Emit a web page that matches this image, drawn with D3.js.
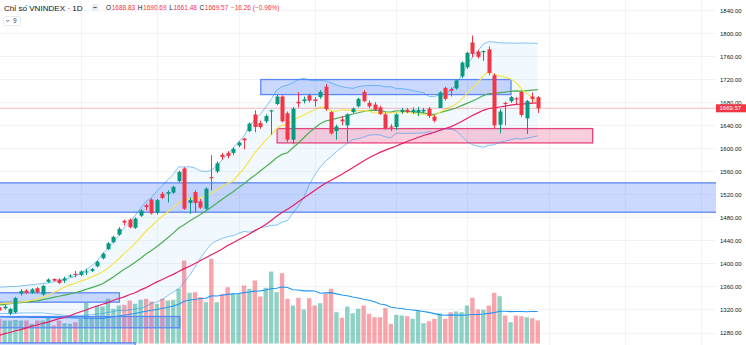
<!DOCTYPE html>
<html>
<head>
<meta charset="utf-8">
<script src="https://cdn.jsdelivr.net/npm/d3@7"></script>
<style>
  html, body { margin: 0; padding: 0; background: #ffffff; }
  svg { display: block; }
  text { font-family: "Liberation Sans", Arial, sans-serif; }
</style>
</head>
<body>
<svg id="chart" width="746" height="345"></svg>
<script>
// ---- VNINDEX daily session data (points / million shares) ----
const opens = [1324,1322,1313,1315,1348,1353,1349,1357,1346,1368,1373,1372,1370,1378,1382,1380,1385,1387,1395,1409,
  1425,1437,1450,1474,1476,1462,1483,1501,1511,1488,1521,1521,1523,1543,1565,1505,1524,1508,1495,1550,
  1560,1589,1592,1592,1605,1617,1630,1659,1644,1647,1664,1677,1690,1661,1615,1681,1682,1692,1685,1689,
  1707,1663,1630,1650,1640,1663,1673,1698,1679,1676,1671,1659,1638,1637,1663,1667,1663,1663,1664,1669,
  1655,1670,1705,1703,1704,1725,1741,1784,1768,1767,1772,1727,1641,1679,1682,1687,1698,1652,1690,1688.83];
const highs = [1326,1328,1323,1342,1355,1355,1357,1359,1363,1374,1374,1374,1377,1381,1387,1388,1391,1392,1405,1419,
  1437,1448,1463,1476,1478,1480,1494,1504,1513,1512,1524,1527,1535,1561,1567,1515,1527,1512,1532,1588,
  1577,1592,1595,1602,1612,1618,1645,1666,1648,1659,1667,1693,1692,1664,1672,1698,1690,1695,1689,1701,
  1712,1665,1641,1656,1661,1671,1688,1701,1683,1680,1674,1662,1642,1661,1670,1670,1671,1672,1670,1672,
  1658,1699,1707,1706,1720,1751,1768,1796,1771,1770,1777,1730,1668,1681,1691,1689,1700,1684,1697,1690.69];
const lows = [1316,1320,1310,1313,1344,1347,1347,1348,1344,1366,1369,1364,1366,1376,1376,1378,1380,1385,1393,1407,
  1423,1435,1448,1466,1461,1460,1481,1492,1485,1485,1512,1506,1521,1541,1493,1486,1489,1495,1493,1527,
  1557,1580,1583,1588,1602,1598,1628,1628,1634,1644,1624,1675,1645,1611,1607,1671,1678,1680,1672,1686,
  1665,1624,1615,1640,1611,1661,1671,1680,1670,1665,1658,1632,1630,1632,1660,1661,1660,1656,1661,1653,
  1645,1672,1683,1690,1702,1722,1738,1758,1756,1752,1727,1635,1626,1640,1679,1675,1655,1625,1678,1661.48];
const closes = [1318,1325,1321,1340,1352,1349,1355,1350,1361,1372,1370,1366,1374,1379,1380,1386,1386,1390,1403,1417,
  1435,1446,1460,1471,1463,1478,1492,1498,1487,1510,1514,1524,1533,1559,1495,1510,1505,1497,1530,1548,
  1574,1585,1587,1599,1610,1614,1643,1637,1637,1656,1666,1690,1647,1615,1669,1678,1685,1683,1682,1698,
  1668,1626,1638,1647,1659,1669,1686,1682,1673,1667,1660,1635,1636,1659,1667,1663,1667,1667,1667,1656,
  1648,1697,1686,1700,1718,1749,1766,1764,1759,1769,1731,1640,1664,1677,1689,1685,1658,1682,1685.83,1669.57];
const volumes = [490,460,460,470,460,460,394,460,460,526,360,460,406,394,426,494,826,526,760,740,
  894,694,760,774,860,794,874,894,840,794,894,860,874,1094,1660,1014,1026,926,826,1694,
  826,994,1126,994,994,1160,1094,1260,940,1114,1440,1026,1406,894,760,914,680,906,760,806,
  994,1094,626,514,740,606,694,760,594,526,526,706,394,574,560,546,494,646,406,446,
  494,606,494,626,640,626,760,914,680,674,760,1014,946,560,426,560,546,526,506,460];

// Indicator values for the first sessions, before each moving window is full
const ma10Head = [1330,1331,1331,1332,1333,1334,1336,1338,1341];
const ma20Head = [1328,1329,1330,1331,1332,1333,1334,1335,1337,1339,1341,1343,1345,1347,1349,1352,1355,1358,1361];
const bbUpperHead = [1359,1359,1360,1360,1361,1362,1363,1364,1365,1366,1368,1370,1372,1375,1378,1383,1389,1396,1404];
const bbLowerHead = [1313,1313,1313,1313,1314,1314,1314,1314,1314,1313,1312,1311,1310,1309,1309,1309,1310,1311,1312];
const ma50Head = [1275,1278,1280,1283,1285,1288,1291,1293,1296,1298,1301,1304,1306,1309,1313,1316,1319,1323,1326,1329,
  1332,1336,1339,1342,1346,1349,1354,1358,1363,1368,1372,1377,1381,1386,1391,1395,1400,1405,1410,1415,
  1420,1425,1431,1436,1441,1446,1451,1457,1462];
const volMaHead = [530,530,528,527,526,525,523,522,520,519,518,517,515,514,512,510,508,506,504];

// Price scale ticks
const priceTicks = [1280,1320,1360,1400,1440,1480,1520,1560,1600,1640,1680,1720,1760,1800,1840];
// Session indices where the time grid falls
const timeGrid = [15,29,44,58,73,86,101,115,129];

// Zones drawn on the chart: session range and price range
const zoneFrom   = [-10, 48.1, 51.1, -10, -10, -10];
const zoneTo     = [140, 94.1, 109.1, 22.1, 33.2, 25.0];
const zoneTop    = [1540, 1719.5, 1634.3, 1349, 1307.8, 1262];
const zoneBottom = [1489, 1693.4, 1609.4, 1332.7, 1288.2, 1230];
const zoneKind   = ['demand','supply-box','support','base','base','base'];

const lastClose = 1669.57;
const header = { title: 'Chỉ số VNINDEX · 1D', o: '1688.83', h: '1690.69', l: '1661.48', c: '1669.57', chg: '−16.26 (−0.96%)' };

// ---- layout ----
const W = 746, H = 345, plotRight = 716;
const UP = '#089981', DOWN = '#f23645';

const svg = d3.select('#chart');
const n = closes.length;
const idx = d3.range(n);

const x = d3.scaleLinear().domain([0, n - 1]).range([-0.84, 537.7]);
const y = d3.scaleLinear().domain([1280, 1840]).range([332.5, 10.2]);
const yVol = d3.scaleLinear().domain([0, 2000]).range([343.5, 243.5]);

// moving averages & bands
function sma(arr, len, head) {
  return arr.map((_, i) => i < len - 1 ? head[i] : d3.mean(arr.slice(i - len + 1, i + 1)));
}
const ma10 = sma(closes, 10, ma10Head);
const ma20 = sma(closes, 20, ma20Head);
const ma50 = sma(closes, 50, ma50Head);
const volMa = sma(volumes, 20, volMaHead);
function band(i, sign) {
  const w = closes.slice(i - 19, i + 1), m = d3.mean(w);
  return m + sign * 2 * Math.sqrt(d3.mean(w, v => (v - m) * (v - m)));
}
const bbUpper = idx.map(i => i < 19 ? bbUpperHead[i] : band(i, 1));
const bbLower = idx.map(i => i < 19 ? bbLowerHead[i] : band(i, -1));

svg.append('defs').append('clipPath').attr('id', 'pane')
  .append('rect').attr('x', 0).attr('y', 0).attr('width', plotRight).attr('height', H);

const pane = svg.append('g').attr('clip-path', 'url(#pane)');

// grid
pane.append('g').selectAll('line').data(priceTicks).join('line')
  .attr('x1', 0).attr('x2', plotRight)
  .attr('y1', d => Math.round(y(d)) + 0.5).attr('y2', d => Math.round(y(d)) + 0.5)
  .attr('stroke', '#f2f3f6').attr('stroke-width', 1);
pane.append('g').selectAll('line').data(timeGrid).join('line')
  .attr('x1', d => Math.round(x(d)) + 0.5).attr('x2', d => Math.round(x(d)) + 0.5)
  .attr('y1', 0).attr('y2', H)
  .attr('stroke', '#f2f3f6').attr('stroke-width', 1);

// volume
const isUp = i => closes[i] >= opens[i];
pane.append('g').selectAll('rect').data(idx).join('rect')
  .attr('x', i => x(i) - 2.2).attr('width', 4.4)
  .attr('y', i => yVol(volumes[i])).attr('height', i => yVol(0) - yVol(volumes[i]))
  .attr('fill', i => isUp(i) ? 'rgba(8,153,129,0.45)' : 'rgba(242,54,69,0.45)');

pane.append('path').datum(idx)
  .attr('d', d3.line().x(i => x(i)).y(i => yVol(volMa[i])))
  .attr('fill', 'none').attr('stroke', '#2196f3').attr('stroke-width', 1.1);

// Bollinger band fill
pane.append('path').datum(idx)
  .attr('d', d3.area().x(i => x(i)).y0(i => y(bbLower[i])).y1(i => y(bbUpper[i])))
  .attr('fill', 'rgba(33,150,243,0.06)');

// zones
const zoneStyle = {
  'demand':     { fill: 'rgba(41,98,255,0.24)', stroke: '#5d87f5' },
  'supply-box': { fill: 'rgba(41,98,255,0.24)', stroke: '#5d87f5' },
  'support':    { fill: 'rgba(233,30,99,0.22)', stroke: '#e6457b' },
  'base':       { fill: 'rgba(41,98,255,0.22)', stroke: '#5d87f5' }
};
pane.append('g').selectAll('rect').data(d3.range(zoneFrom.length)).join('rect')
  .attr('x', k => x(zoneFrom[k])).attr('width', k => x(zoneTo[k]) - x(zoneFrom[k]))
  .attr('y', k => y(zoneTop[k])).attr('height', k => y(zoneBottom[k]) - y(zoneTop[k]))
  .attr('fill', k => zoneStyle[zoneKind[k]].fill)
  .attr('stroke', k => zoneStyle[zoneKind[k]].stroke).attr('stroke-width', 1.3);

// band edges
const seriesLine = arr => d3.line().x(i => x(i)).y(i => y(arr[i]));
pane.append('path').datum(idx).attr('d', seriesLine(bbUpper))
  .attr('fill', 'none').attr('stroke', 'rgba(33,150,243,0.55)').attr('stroke-width', 1);
pane.append('path').datum(idx).attr('d', seriesLine(bbLower))
  .attr('fill', 'none').attr('stroke', 'rgba(33,150,243,0.55)').attr('stroke-width', 1);

// moving averages
[[ma50, '#e91e63'], [ma20, '#4caf50'], [ma10, '#f5e44f']].forEach(([arr, col]) => {
  pane.append('path').datum(idx).attr('d', seriesLine(arr))
    .attr('fill', 'none').attr('stroke', col).attr('stroke-width', 1.2);
});

// last price line
pane.append('line')
  .attr('x1', 0).attr('x2', plotRight)
  .attr('y1', y(lastClose)).attr('y2', y(lastClose))
  .attr('stroke', 'rgba(242,54,69,0.35)').attr('stroke-width', 1);

// candles
const candles = pane.append('g').selectAll('g').data(idx).join('g');
candles.append('line')
  .attr('x1', i => Math.round(x(i)) + 0.5).attr('x2', i => Math.round(x(i)) + 0.5)
  .attr('y1', i => y(highs[i])).attr('y2', i => y(lows[i]))
  .attr('stroke', i => isUp(i) ? UP : DOWN).attr('stroke-width', 1);
candles.append('rect')
  .attr('x', i => Math.round(x(i)) + 0.5 - 2).attr('width', 4)
  .attr('y', i => y(Math.max(opens[i], closes[i])))
  .attr('height', i => Math.max(1, Math.abs(y(opens[i]) - y(closes[i]))))
  .attr('fill', i => isUp(i) ? UP : DOWN);

// price axis
const axis = svg.append('g').attr('transform', `translate(${plotRight},0)`)
  .call(d3.axisRight(y).tickValues(priceTicks).tickSize(0).tickPadding(4).tickFormat(d => d.toFixed(2)));
axis.select('.domain').remove();
axis.selectAll('text').attr('font-size', 6).attr('fill', '#131722')
  .attr('font-family', '"Liberation Sans", Arial, sans-serif');

// last price tag
const tagY = y(lastClose);
svg.append('rect').attr('x', plotRight).attr('y', tagY - 4).attr('width', 30).attr('height', 8).attr('fill', DOWN);
svg.append('text').attr('x', plotRight + 3.5).attr('y', tagY + 2.2)
  .attr('font-size', 6).attr('fill', '#ffffff').text(lastClose.toFixed(2));

// header legend
svg.append('text').attr('x', 4).attr('y', 10.5).attr('font-size', 8.1).attr('fill', '#131722').text(header.title);
svg.append('circle').attr('cx', 95).attr('cy', 7.5).attr('r', 3.6).attr('fill', '#e9ebf0');
svg.append('line').attr('x1', 93.4).attr('x2', 96.6).attr('y1', 7.5).attr('y2', 7.5).attr('stroke', '#434651').attr('stroke-width', 0.9);

// OHLC readout laid out left to right
const legendParts = [['O', '#131722', 0.6], [header.o, DOWN, 2.6], ['H', '#131722', 0.6], [header.h, DOWN, 2.6],
  ['L', '#131722', 0.6], [header.l, DOWN, 2.6], ['C', '#131722', 0.6], [header.c, DOWN, 2.6], [header.chg, DOWN, 0]];
let cursor = 106;
legendParts.forEach(([txt, col, gap]) => {
  const t = svg.append('text').attr('x', cursor).attr('y', 10.3).attr('font-size', 6.5).attr('fill', col).text(txt);
  cursor += t.node().getComputedTextLength() + gap;
});

// collapsed indicator list button
svg.append('rect').attr('x', 3.5).attr('y', 16.5).attr('width', 17).attr('height', 9).attr('rx', 2)
  .attr('fill', '#ffffff').attr('stroke', '#e0e3eb').attr('stroke-width', 0.8);
svg.append('path').attr('d', 'M6.3,20 L7.8,21.6 L9.3,20').attr('fill', 'none').attr('stroke', '#434651').attr('stroke-width', 0.8);
svg.append('text').attr('x', 13).attr('y', 23.4).attr('font-size', 6.5).attr('fill', '#434651').text('9');
</script>
</body>
</html>
